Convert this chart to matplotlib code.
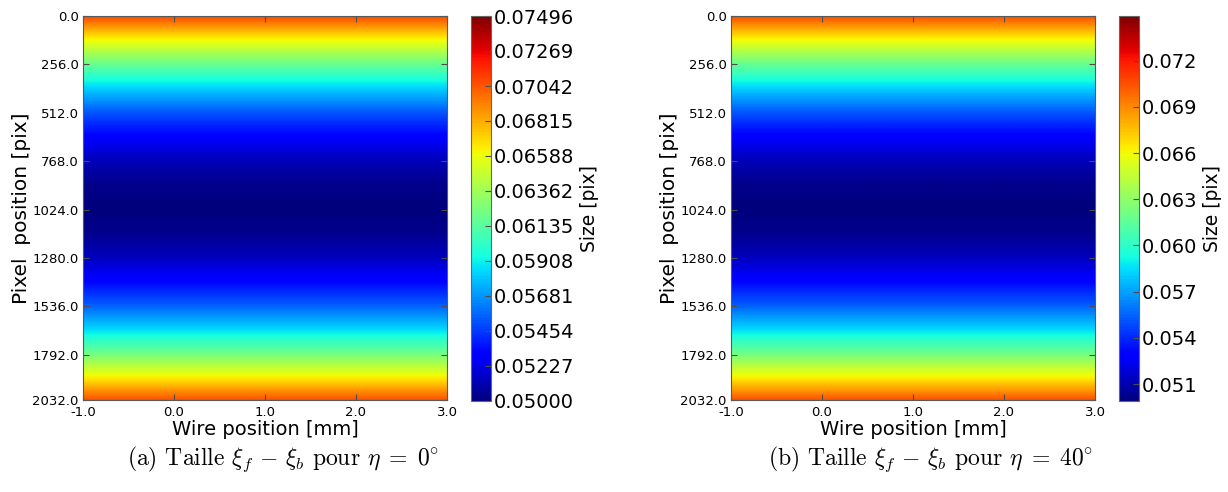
import numpy as np
import matplotlib
matplotlib.use('Agg')
import matplotlib.pyplot as plt
from matplotlib.ticker import FormatStrFormatter

plt.rcParams['mathtext.fontset'] = 'cm'

# pixel positions along the detector and the size
pixel_pos = [0, 127, 254, 381, 508, 635, 762, 889, 1016, 1143, 1270, 1397, 1524, 1651, 1778, 1905, 2032]
size_eta0 = [0.0708, 0.0661, 0.0619, 0.0583, 0.0553, 0.0530, 0.0513, 0.0503, 0.0500,
             0.0503, 0.0513, 0.0530, 0.0553, 0.0583, 0.0619, 0.0661, 0.0706]
size_eta40 = [0.0707, 0.0660, 0.0618, 0.0582, 0.0552, 0.0529, 0.0512, 0.0502, 0.0499,
              0.0502, 0.0512, 0.0529, 0.0552, 0.0582, 0.0618, 0.0660, 0.0705]
wire_range = [-1.0, 3.0]
limits_eta0 = [0.05000, 0.074961]
limits_eta40 = [0.04990, 0.07490]
cb_ticks_eta40 = [0.051, 0.054, 0.057, 0.060, 0.063, 0.066, 0.069, 0.072]
y_ticks = [0, 256, 512, 768, 1024, 1280, 1536, 1792, 2032]
x_ticks = [-1.0, 0.0, 1.0, 2.0, 3.0]
captions = [r'(a) Taille $\xi_f \,-\, \xi_b$ pour $\eta \;=\; 0^{\circ}$',
            r'(b) Taille $\xi_f \,-\, \xi_b$ pour $\eta \;=\; 40^{\circ}$']

fig = plt.figure(figsize=(12.28, 4.92), dpi=100)

panels = [
    (size_eta0, limits_eta0, 83, 471, '%.5f', list(np.linspace(limits_eta0[0], limits_eta0[1], 12))),
    (size_eta40, limits_eta40, 731, 1119, '%.3f', cb_ticks_eta40),
]

for i, (vals, lim, ax_left, cb_left, cb_fmt, cb_ticks) in enumerate(panels):
    ax = fig.add_axes([ax_left / 1228, 1 - 400 / 492, 364 / 1228, 384 / 492])
    cax = fig.add_axes([cb_left / 1228, 1 - 401 / 492, 20 / 1228, 385 / 492])

    data = np.column_stack([vals, vals])
    step = (pixel_pos[1] - pixel_pos[0]) / 2
    im = ax.imshow(data, cmap='jet', vmin=lim[0], vmax=lim[1], aspect='auto',
                   interpolation='bilinear',
                   extent=[wire_range[0], wire_range[1], pixel_pos[-1] + step, pixel_pos[0] - step])
    ax.set_xlim(wire_range)
    ax.set_ylim(pixel_pos[-1], pixel_pos[0])
    ax.set_xticks(x_ticks)
    ax.set_yticks(y_ticks)
    ax.xaxis.set_major_formatter(FormatStrFormatter('%.1f'))
    ax.yaxis.set_major_formatter(FormatStrFormatter('%.1f'))
    ax.tick_params(direction='in', top=True, right=True, labelsize=9.5, length=4,
                   color='0.3')
    ax.tick_params(axis='x', pad=4)
    ax.tick_params(axis='y', pad=3)
    for s in ax.spines.values():
        s.set_color('0.35')
    ax.set_xlabel('Wire position [mm]', fontsize=14, labelpad=1)
    ax.set_ylabel('Pixel  position [pix]', fontsize=14.5, labelpad=1)

    cb = fig.colorbar(im, cax=cax)
    cb.set_ticks(cb_ticks)
    cb.ax.yaxis.set_major_formatter(FormatStrFormatter(cb_fmt))
    cb.ax.tick_params(labelsize=14, direction='in', length=4, pad=2, color='0.3')
    cb.outline.set_edgecolor('0.4')
    cb.set_label('Size [pix]', fontsize=13.5, labelpad=4)

    fig.text((ax_left + 200) / 1228, 1 - 459 / 492, captions[i], fontsize=17,
             family='cmr10', ha='center', va='center')

fig.savefig('out.png', dpi=100)
